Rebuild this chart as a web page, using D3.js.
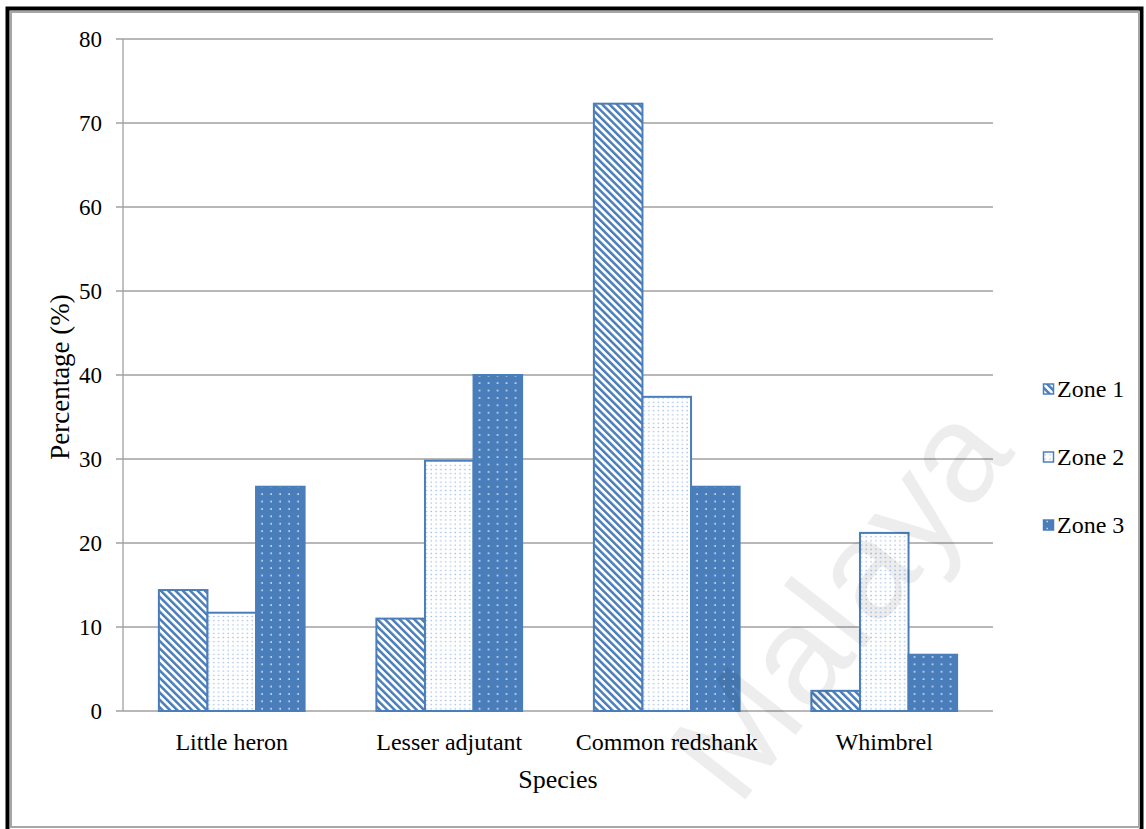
<!DOCTYPE html>
<html>
<head>
<meta charset="utf-8">
<script src="https://cdn.jsdelivr.net/npm/d3@7"></script>
<style>
  html, body { margin: 0; padding: 0; background: #fff; }
  svg { display: block; }
</style>
</head>
<body>
<svg id="chart" width="1146" height="829"></svg>
<script>
// Share of each species recorded in each zone (%)
const categories = ["Little heron", "Lesser adjutant", "Common redshank", "Whimbrel"];
const seriesNames = ["Zone 1", "Zone 2", "Zone 3"];
const zone1 = [14.4, 11.0, 72.3, 2.4];
const zone2 = [11.7, 29.8, 37.4, 21.2];
const zone3 = [26.7, 40.0, 26.7, 6.7];
const yTicks = [0, 10, 20, 30, 40, 50, 60, 70, 80];

const seriesValues = [zone1, zone2, zone3];
const BLUE = "#4a7ebb";
const SERIF = "'Liberation Serif', 'Times New Roman', serif";

const svg = d3.select("#chart");
const defs = svg.append("defs");

// Zone 1: downward diagonal stripes
const hatch = defs.append("pattern")
  .attr("id", "pat0").attr("patternUnits", "userSpaceOnUse")
  .attr("width", 5.2).attr("height", 10)
  .attr("patternTransform", "rotate(-45)");
hatch.append("rect").attr("width", 5.2).attr("height", 10).attr("fill", "#fff");
hatch.append("rect").attr("width", 2.5).attr("height", 10).attr("fill", BLUE);

// Zone 2: white with fine blue dots
const fine = defs.append("pattern")
  .attr("id", "pat1").attr("patternUnits", "userSpaceOnUse")
  .attr("width", 4.8).attr("height", 4.2);
fine.append("rect").attr("width", 4.8).attr("height", 4.2).attr("fill", "#fff");
fine.append("rect").attr("x", 1.5).attr("y", 1.5).attr("width", 1.2).attr("height", 1.2).attr("fill", "#8aaee0");

// Zone 3: solid blue with white dots
const solid = defs.append("pattern")
  .attr("id", "pat2").attr("patternUnits", "userSpaceOnUse")
  .attr("width", 9).attr("height", 7.4);
solid.append("rect").attr("width", 9).attr("height", 7.4).attr("fill", BLUE);
solid.append("rect").attr("x", 3.5).attr("y", 3).attr("width", 1.5).attr("height", 1.5).attr("fill", "#ffffff").attr("opacity", 0.9);

// Page frame
svg.append("rect").attr("x", 7.5).attr("y", 8.5).attr("width", 1134).attr("height", 830)
  .attr("fill", "none").attr("stroke", "#000").attr("stroke-width", 4);
svg.append("rect").attr("x", 11).attr("y", 12).attr("width", 1128).attr("height", 815)
  .attr("fill", "none").attr("stroke", "#a6a6a6").attr("stroke-width", 2);

const margin = { left: 123, top: 39, right: 153, bottom: 118 };
const width = 1146 - margin.left - margin.right;   // 870
const height = 829 - margin.top - margin.bottom;   // 672

const g = svg.append("g").attr("transform", `translate(${margin.left},${margin.top})`);

const x0 = d3.scaleBand().domain(categories).range([0, width])
  .paddingInner(0.33).paddingOuter(0.165);
const x1 = d3.scaleBand().domain(d3.range(seriesNames.length)).range([0, x0.bandwidth()]);
const y = d3.scaleLinear().domain([0, 80]).range([height, 0]);

// Gridlines
g.append("g").selectAll("line").data(yTicks).join("line")
  .attr("x1", -7).attr("x2", width)
  .attr("y1", d => y(d)).attr("y2", d => y(d))
  .attr("stroke", "#a0a0a0").attr("stroke-width", 1.3);

// Y axis
const yAxis = g.append("g").call(d3.axisLeft(y).tickValues(yTicks).tickSize(0).tickPadding(21));
yAxis.select(".domain").remove();
yAxis.selectAll("text").attr("font-family", SERIF).attr("font-size", 23).attr("fill", "#000");
g.append("line").attr("x1", 0).attr("x2", 0).attr("y1", 0).attr("y2", height)
  .attr("stroke", "#a0a0a0").attr("stroke-width", 1.3);

// Bars
const groups = g.append("g").selectAll("g").data(categories).join("g")
  .attr("transform", d => `translate(${x0(d)},0)`);
groups.selectAll("rect")
  .data((c, ci) => seriesValues.map((vals, si) => ({ si, v: vals[ci] })))
  .join("rect")
  .attr("x", d => x1(d.si))
  .attr("width", x1.bandwidth())
  .attr("y", d => y(d.v))
  .attr("height", d => height - y(d.v))
  .attr("fill", d => `url(#pat${d.si})`)
  .attr("stroke", BLUE).attr("stroke-width", 2);

// X axis labels
const xAxis = g.append("g").attr("transform", `translate(0,${height})`)
  .call(d3.axisBottom(x0).tickSize(0).tickPadding(22));
xAxis.select(".domain").remove();
xAxis.selectAll("text").attr("font-family", SERIF).attr("font-size", 24).attr("fill", "#000");

// Axis titles
g.append("text").attr("x", 435).attr("y", height + 77)
  .attr("text-anchor", "middle").attr("font-family", SERIF).attr("font-size", 26)
  .text("Species");
g.append("text").attr("transform", `translate(-54,${height / 2 + 2}) rotate(-90)`)
  .attr("text-anchor", "middle").attr("font-family", SERIF).attr("font-size", 27)
  .text("Percentage (%)");

// Legend
const legend = svg.append("g").attr("transform", "translate(1043,389)");
const items = legend.selectAll("g").data(seriesNames).join("g")
  .attr("transform", (d, i) => `translate(0,${i * 68})`);
items.append("rect").attr("x", 0.5).attr("y", -5).attr("width", 10).attr("height", 10)
  .attr("fill", (d, i) => `url(#pat${i})`).attr("stroke", BLUE).attr("stroke-width", 1.5);
items.append("text").attr("x", 14).attr("y", 8)
  .attr("font-family", SERIF).attr("font-size", 24).text(d => d);

// Watermark
svg.append("text")
  .attr("transform", "translate(848,608) rotate(-52)")
  .attr("text-anchor", "middle").attr("dominant-baseline", "middle")
  .attr("font-family", "'Liberation Sans', Arial, sans-serif").attr("font-size", 140)
  .attr("fill", "#000").attr("fill-opacity", 0.07)
  .text("Malaya");
</script>
</body>
</html>
